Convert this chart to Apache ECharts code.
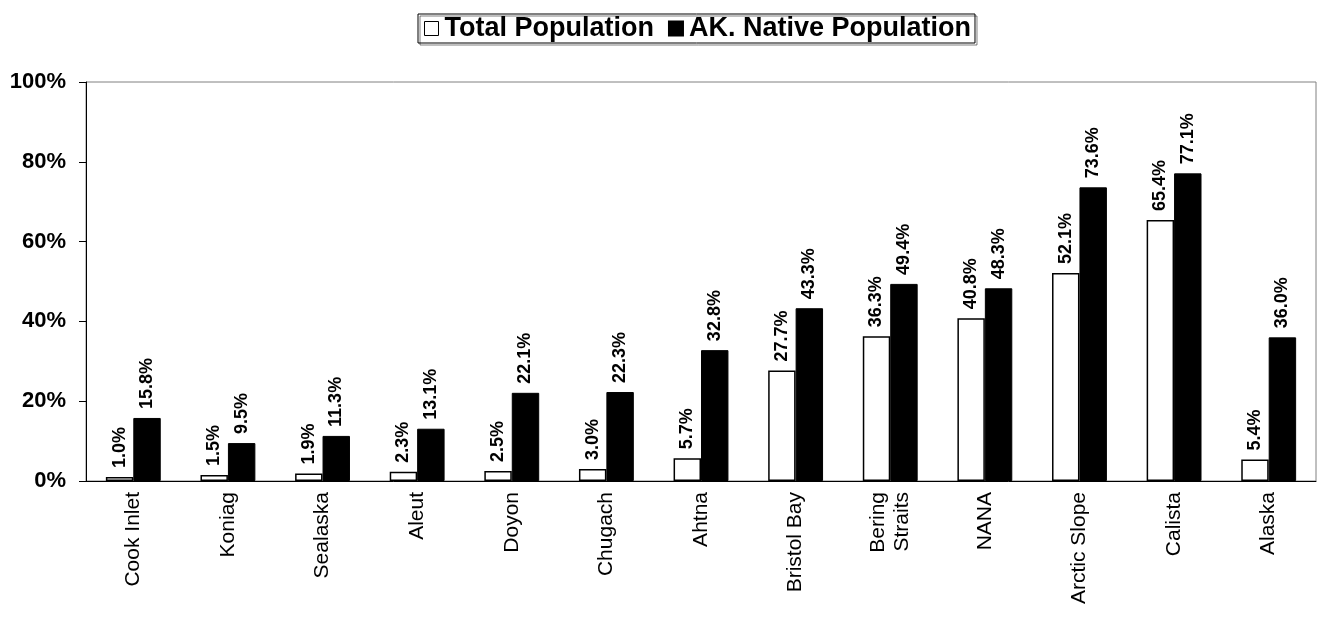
<!DOCTYPE html>
<html><head><meta charset="utf-8">
<script src="https://cdn.jsdelivr.net/npm/echarts@6/dist/echarts.min.js"></script>
<style>html,body{margin:0;padding:0;background:#fff}#c{width:1319px;height:633px}</style>
</head><body><div id="c"></div>
<script>
var categories = ['Cook Inlet','Koniag','Sealaska','Aleut','Doyon','Chugach','Ahtna','Bristol Bay','Bering\nStraits','NANA','Arctic Slope','Calista','Alaska'];
var totalPop = [1.0,1.5,1.9,2.3,2.5,3.0,5.7,27.7,36.3,40.8,52.1,65.4,5.4];
var nativePop = [15.8,9.5,11.3,13.1,22.1,22.3,32.8,43.3,49.4,48.3,73.6,77.1,36.0];
var yTicks = [0,20,40,60,80,100];
var F = 'Liberation Sans, Arial, sans-serif';
var chart = echarts.init(document.getElementById('c'));
var lbl = {show:true, position:'top', rotate:90, align:'left', verticalAlign:'middle', distance:9,
  fontFamily:F, fontWeight:'bold', fontSize:18, color:'#000',
  formatter:function(p){return p.value.toFixed(1)+'%';}};
chart.setOption({
  animation:false,
  legend:{top:14, left:418, itemWidth:14, itemHeight:14, itemGap:14,
    borderColor:'#000', borderWidth:1, padding:[1,4,1,6],
    shadowColor:'rgba(0,0,0,0.5)', shadowOffsetX:2, shadowOffsetY:2,
    textStyle:{fontFamily:F, fontWeight:'bold', fontSize:27, color:'#000', padding:[0,0,0,1]},
    data:[{name:'Total Population', icon:'rect', itemStyle:{color:'#fff', borderColor:'#000', borderWidth:1}},
          {name:'AK. Native Population', icon:'rect', itemStyle:{color:'#000'}}]},
  grid:{left:86, right:3, top:82, bottom:152, show:true, borderColor:'#808080', borderWidth:1, containLabel:false},
  xAxis:{type:'category', data:categories,
    axisLine:{lineStyle:{color:'#000', width:1}},
    axisTick:{inside:true, length:7, lineStyle:{color:'#000'}},
    axisLabel:{rotate:90, margin:11, fontFamily:F, fontSize:21, color:'#000', interval:0, lineHeight:24}},
  yAxis:{type:'value', min:0, max:100, interval:20,
    axisLine:{show:true, lineStyle:{color:'#000', width:1}},
    axisTick:{show:true, length:7, lineStyle:{color:'#000'}},
    splitLine:{show:false},
    axisLabel:{margin:20, fontFamily:F, fontWeight:'bold', fontSize:22, color:'#000',
      formatter:function(v){return yTicks.indexOf(v)>=0 ? v+'%' : '';}}},
  series:[
    {name:'Total Population', type:'bar', data:totalPop, barWidth:'29%', barGap:'0%',
      itemStyle:{color:'#fff', borderColor:'#000', borderWidth:1.5}, label:lbl},
    {name:'AK. Native Population', type:'bar', data:nativePop, barWidth:'29%',
      itemStyle:{color:'#000', borderColor:'#000', borderWidth:1}, label:lbl}
  ]
});
</script></body></html>
